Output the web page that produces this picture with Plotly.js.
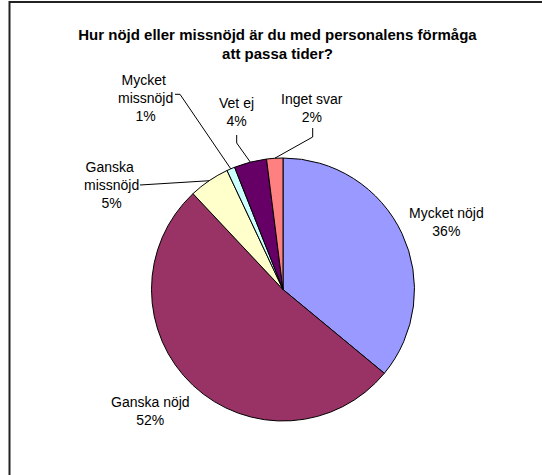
<!DOCTYPE html>
<html>
<head>
<meta charset="utf-8">
<script src="https://cdn.plot.ly/plotly-3.0.1.min.js"></script>
<style>html,body{margin:0;padding:0;background:#fff;}#chart{width:542px;height:475px;}</style>
</head>
<body>
<div id="chart"></div>
<script>
// ---- data ----
const categories = ["Mycket nöjd", "Ganska nöjd", "Ganska missnöjd", "Mycket missnöjd", "Vet ej", "Inget svar"];
const values = [36, 52, 5, 1, 4, 2];
const labelText = ["Mycket nöjd", "Ganska nöjd", "Ganska&nbsp;<br>missnöjd", "Mycket&nbsp;<br>missnöjd", "Vet ej", "Inget svar"];
const colors = ["#9999FF", "#993366", "#FFFFCC", "#CCFFFF", "#660066", "#FF8080"];
const titleText = "<b>Hur nöjd eller missnöjd är du med personalens förmåga<br>att passa tider?</b>";

// ---- layout constants (pixels) ----
const W = 542, H = 475;
const cx = 283, cy = 289.5, R = 131.5;
const labelPos = [[446.7, 222.4], [150.7, 410.9], [111, 184.8], [145, 97.6], [236.5, 112.2], [311.7, 108]];
// leader line starting points (null = no leader)
const leaderStart = [null, null, [[140, 185]], [[175, 94.3], [180, 94.3]], [[236.7, 135], [236.7, 143]], [[312.7, 128], [312.7, 137]]];

const px = x => x / W, py = y => 1 - y / H;
const total = values.reduce((a, b) => a + b, 0);
let cum = 0;
const annotations = [], shapes = [];
values.forEach((v, i) => {
  const midFrac = (cum + v / 2) / total;
  cum += v;
  const ang = midFrac * 2 * Math.PI;
  const ex = cx + R * Math.sin(ang), ey = cy - R * Math.cos(ang);
  const pct = Math.round(v / total * 100) + "%";
  annotations.push({
    text: labelText[i] + "<br>" + pct, showarrow: false,
    xref: "paper", yref: "paper", x: px(labelPos[i][0]), y: py(labelPos[i][1]),
    xanchor: "center", yanchor: "middle", align: "center",
    font: {family: "Liberation Sans, Arial, sans-serif", size: 14, color: "#000"}
  });
  if (leaderStart[i]) {
    const pts = leaderStart[i].concat([[ex, ey]]);
    const path = pts.map((p, k) => (k ? "L" : "M") + px(p[0]) + "," + py(p[1])).join(" ");
    shapes.push({type: "path", xref: "paper", yref: "paper", path: path, line: {color: "#000", width: 1}});
  }
});
// chart frame
shapes.push({type: "rect", xref: "paper", yref: "paper", x0: px(9.5), x1: 1.2, y0: -0.2, y1: py(2), line: {color: "#222", width: 2}, fillcolor: "rgba(0,0,0,0)"});

const data = [{
  type: "pie", labels: categories, values: values, sort: false, direction: "clockwise", rotation: 0,
  marker: {colors: colors, line: {color: "#000", width: 1}},
  textinfo: "none", hoverinfo: "label+percent", showlegend: false,
  domain: {x: [px(cx - R), px(cx + R)], y: [py(cy + R), py(cy - R)]}
}];

const layout = {
  width: W, height: H, margin: {l: 0, r: 0, t: 0, b: 0},
  paper_bgcolor: "#fff", plot_bgcolor: "#fff", showlegend: false,
  title: {text: titleText, x: 277.5 / W, xanchor: "center", xref: "paper", y: 1 - 39.5 / H, yanchor: "middle", yref: "container",
    font: {family: "Liberation Sans, Arial, sans-serif", size: 15, color: "#000"}},
  annotations: annotations, shapes: shapes
};
Plotly.newPlot("chart", data, layout, {displayModeBar: false, staticPlot: true});
</script>
</body>
</html>
